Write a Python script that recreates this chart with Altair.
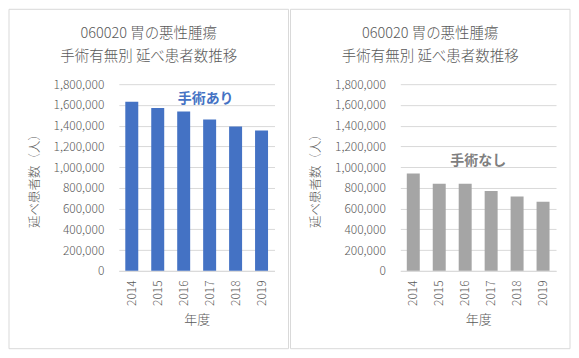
import altair as alt
import pandas as pd

years = ["2014", "2015", "2016", "2017", "2018", "2019"]
with_surgery = [1630000, 1571000, 1536000, 1459000, 1391000, 1353000]
without_surgery = [938000, 839000, 840000, 771000, 716000, 666000]
title_lines = "060020 胃の悪性腫瘍\n手術有無別 延べ患者数推移"
labels = ["手術あり", "手術なし"]
label_at_year = ["2017", "2017"]
label_at_value = [1655000, 1056000]
bar_colors = ["#4472C4", "#A5A5A5"]
label_colors = ["#4472C4", "#7F7F7F"]
y_title = "延べ患者数（人）"
x_title = "年度"
y_ticks = [0, 200000, 400000, 600000, 800000, 1000000, 1200000, 1400000, 1600000, 1800000]

FONT = "Noto Sans CJK JP"
GREY = "#595959"
W, H = 156, 187
one = pd.DataFrame({"k": [0]})


def panel(values, color, label, label_color, label_year, label_value, label_dx):
    df = pd.DataFrame({"year": years, "value": values})
    ann_df = pd.DataFrame({"year": [label_year], "value": [label_value], "text": [label]})
    x = alt.X(
        "year:O",
        sort=years,
        scale=alt.Scale(paddingInner=0.5, paddingOuter=0.25),
        axis=alt.Axis(
            title=x_title,
            labelAngle=-90,
            labelPadding=9,
            titlePadding=8,
            ticks=False,
            tickSize=0,
            domainColor="#D9D9D9",
            labelFontSize=12,
            titleFontSize=13,
            labelFontWeight=300,
            titleFontWeight=300,
        ),
    )
    y = alt.Y(
        "value:Q",
        scale=alt.Scale(domain=[0, 1800000], nice=False),
        axis=alt.Axis(
            title=y_title,
            values=y_ticks,
            format=",d",
            labelOverlap=False,
            labelPadding=15,
            titlePadding=12,
            ticks=False,
            tickSize=0,
            domain=False,
            gridColor="#D9D9D9",
            labelFontSize=12,
            titleFontSize=12.5,
            labelFontWeight=300,
            titleFontWeight=300,
        ),
    )
    bars = alt.Chart(df).mark_bar(color=color).encode(x=x, y=y)
    border = alt.Chart(one).mark_rect(fillOpacity=0, stroke="#D9D9D9", strokeWidth=1).encode(
        x=alt.value(-110), x2=alt.value(170), y=alt.value(-75), y2=alt.value(265)
    )
    title = alt.Chart(one).mark_text(
        text=title_lines, lineBreak="\n", lineHeight=23, font=FONT, fontSize=14.5,
        fontWeight=300, color=GREY, align="center", baseline="middle",
    ).encode(x=alt.value(30), y=alt.value(-50))
    ann = alt.Chart(ann_df).mark_text(
        font=FONT, fontSize=14, fontWeight="bold", color=label_color,
        align="center", baseline="middle", dx=label_dx,
    ).encode(x=x, y=y, text="text:N")
    return alt.layer(border, bars, ann, title).properties(width=W, height=H)


left = panel(with_surgery, bar_colors[0], labels[0], label_colors[0],
             label_at_year[0], label_at_value[0], -4)
right = panel(without_surgery, bar_colors[1], labels[1], label_colors[1],
              label_at_year[1], label_at_value[1], -13)

chart = (
    alt.hconcat(left, right, spacing=0)
    .properties(padding=0)
    .configure_view(stroke=None)
    .configure_axis(labelFont=FONT, titleFont=FONT, labelColor=GREY, titleColor=GREY)
    .configure_text(font=FONT)
)

chart.save("out.html", embed_options={"renderer": "svg", "actions": False})
